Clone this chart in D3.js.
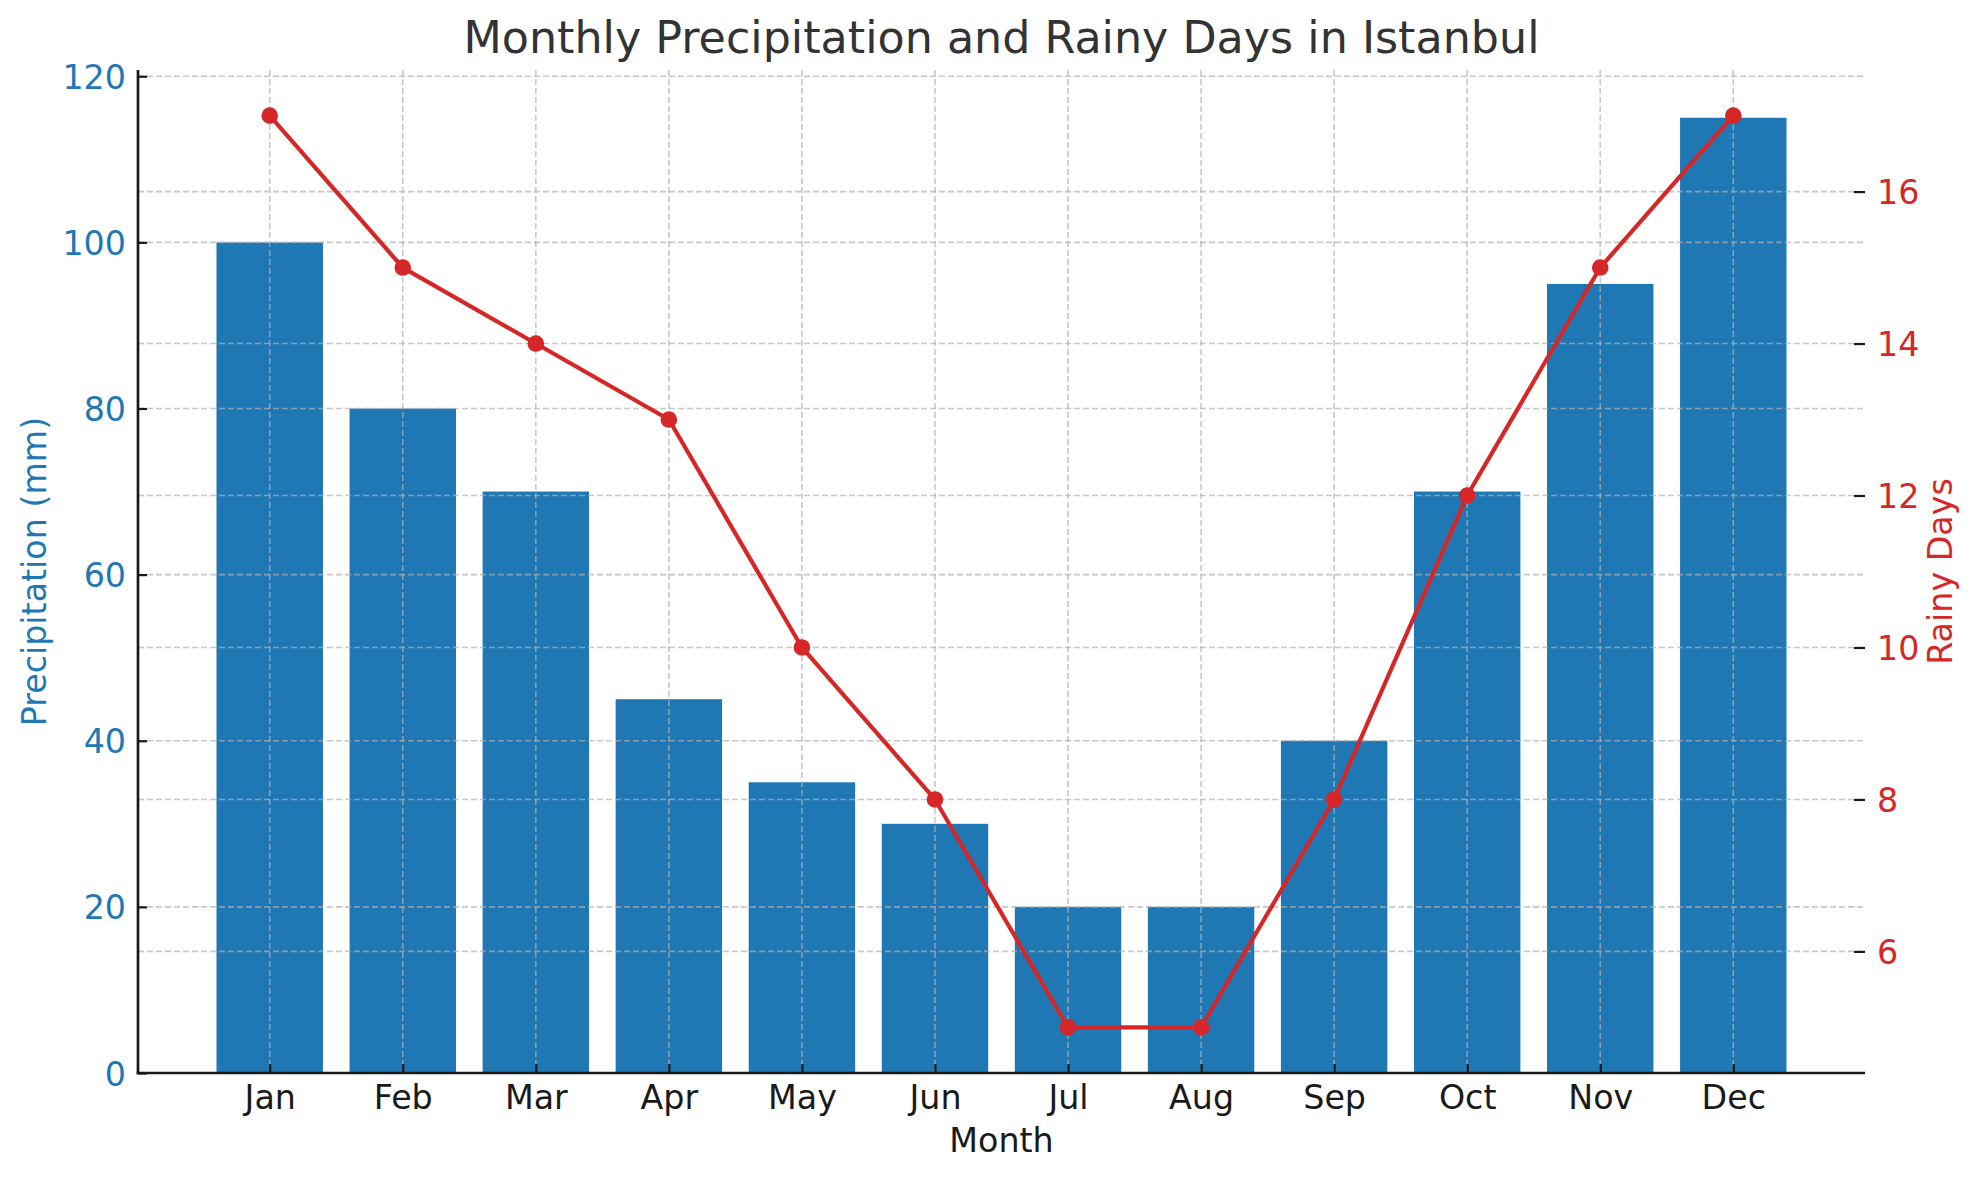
<!DOCTYPE html>
<html>
<head>
<meta charset="utf-8">
<script src="https://cdn.jsdelivr.net/npm/d3@7"></script>
<style>
  html, body { margin: 0; padding: 0; background: #fff; }
  svg { display: block; font-family: "DejaVu Sans", sans-serif; }
</style>
</head>
<body>
<svg id="chart" width="1980" height="1180"></svg>
<script>
const months = ["Jan","Feb","Mar","Apr","May","Jun","Jul","Aug","Sep","Oct","Nov","Dec"];
const precipitation = [100, 80, 70, 45, 35, 30, 20, 20, 40, 70, 95, 115];
const rainyDays = [17, 15, 14, 13, 10, 8, 5, 5, 8, 12, 15, 17];
const leftTicks = [0, 20, 40, 60, 80, 100, 120];
const rightTicks = [6, 8, 10, 12, 14, 16];

const W = 1980, H = 1180;
const m = { left: 138, right: 1865, top: 70, bottom: 1073 };
const BLUE = "#1f77b4", RED = "#d62728", INK = "#1a1a1a";
const FS = 33.3;

const svg = d3.select("#chart");

const x = d3.scaleLinear().domain([-0.99, 11.99]).range([m.left, m.right]);
const yL = d3.scaleLinear().domain([0, 120.75]).range([m.bottom, m.top]);
const yR = d3.scaleLinear().domain([4.4, 17.6]).range([m.bottom, m.top]);
const barW = x(0.8) - x(0);

// Bars
svg.append("g").selectAll("rect").data(precipitation).join("rect")
  .attr("x", (d, i) => x(i - 0.4))
  .attr("width", barW)
  .attr("y", d => yL(d))
  .attr("height", d => yL(0) - yL(d))
  .attr("fill", BLUE);

// Grid (drawn over bars, semi-transparent)
const grid = svg.append("g")
  .attr("stroke", "#b0b0b0").attr("stroke-opacity", 0.7)
  .attr("stroke-width", 1.6).attr("stroke-dasharray", "6,3").attr("fill", "none");
grid.selectAll("line.gl").data(leftTicks).join("line").attr("class", "gl")
  .attr("x1", m.left).attr("x2", m.right)
  .attr("y1", d => yL(d)).attr("y2", d => yL(d));
grid.selectAll("line.gr").data(rightTicks).join("line").attr("class", "gr")
  .attr("x1", m.left).attr("x2", m.right)
  .attr("y1", d => yR(d)).attr("y2", d => yR(d));
grid.selectAll("line.gv").data(months).join("line").attr("class", "gv")
  .attr("x1", (d, i) => x(i)).attr("x2", (d, i) => x(i))
  .attr("y1", m.top).attr("y2", m.bottom);

// Line + markers
const line = d3.line().x((d, i) => x(i)).y(d => yR(d));
svg.append("path").datum(rainyDays)
  .attr("d", line).attr("fill", "none")
  .attr("stroke", RED).attr("stroke-width", 4.2).attr("stroke-linejoin", "round");
svg.append("g").selectAll("circle").data(rainyDays).join("circle")
  .attr("cx", (d, i) => x(i)).attr("cy", d => yR(d))
  .attr("r", 8.3).attr("fill", RED);

// Axes: inward ticks
const xAxis = d3.axisBottom(x).tickValues(d3.range(months.length))
  .tickFormat(i => months[i]).tickSizeInner(-9).tickSizeOuter(0).tickPadding(22);
const gx = svg.append("g").attr("transform", `translate(0,${m.bottom})`).call(xAxis);
gx.select(".domain").remove();
gx.selectAll(".tick line").attr("stroke", INK).attr("stroke-width", 2.2);
gx.selectAll(".tick text").attr("fill", INK).attr("font-size", FS)
  .attr("font-family", "DejaVu Sans").attr("dy", null).attr("y", null)
  .attr("transform", "translate(0,36)");

const yAxisL = d3.axisLeft(yL).tickValues(leftTicks).tickSizeInner(-9).tickSizeOuter(0).tickPadding(12);
const gyl = svg.append("g").attr("transform", `translate(${m.left},0)`).call(yAxisL);
gyl.select(".domain").remove();
gyl.selectAll(".tick line").attr("stroke", INK).attr("stroke-width", 2.2);
gyl.selectAll(".tick text").attr("fill", BLUE).attr("font-size", FS)
  .attr("font-family", "DejaVu Sans").attr("dy", "0.36em");

const yAxisR = d3.axisRight(yR).tickValues(rightTicks).tickSizeInner(-11).tickSizeOuter(0).tickPadding(12);
const gyr = svg.append("g").attr("transform", `translate(${m.right},0)`).call(yAxisR);
gyr.select(".domain").remove();
gyr.selectAll(".tick line").attr("stroke", INK).attr("stroke-width", 2.2);
gyr.selectAll(".tick text").attr("fill", RED).attr("font-size", FS)
  .attr("font-family", "DejaVu Sans").attr("dy", "0.36em");

// Spines (left, bottom)
svg.append("line").attr("x1", m.left).attr("x2", m.left)
  .attr("y1", m.top).attr("y2", m.bottom + 1.3)
  .attr("stroke", INK).attr("stroke-width", 2.7);
svg.append("line").attr("x1", m.left - 1.3).attr("x2", m.right)
  .attr("y1", m.bottom).attr("y2", m.bottom)
  .attr("stroke", INK).attr("stroke-width", 2.7);

// Labels
svg.append("text").attr("x", (m.left + m.right) / 2).attr("y", 53)
  .attr("text-anchor", "middle").attr("font-size", 44.4).attr("fill", "#333333")
  .text("Monthly Precipitation and Rainy Days in Istanbul");
svg.append("text").attr("x", (m.left + m.right) / 2).attr("y", 1152)
  .attr("text-anchor", "middle").attr("font-size", FS).attr("fill", INK)
  .text("Month");
svg.append("text").attr("transform", `translate(46,${(m.top + m.bottom) / 2}) rotate(-90)`)
  .attr("text-anchor", "middle").attr("font-size", FS).attr("fill", BLUE)
  .text("Precipitation (mm)");
svg.append("text").attr("transform", `translate(1952,${(m.top + m.bottom) / 2}) rotate(-90)`)
  .attr("text-anchor", "middle").attr("font-size", FS).attr("fill", RED)
  .text("Rainy Days");
</script>
</body>
</html>
